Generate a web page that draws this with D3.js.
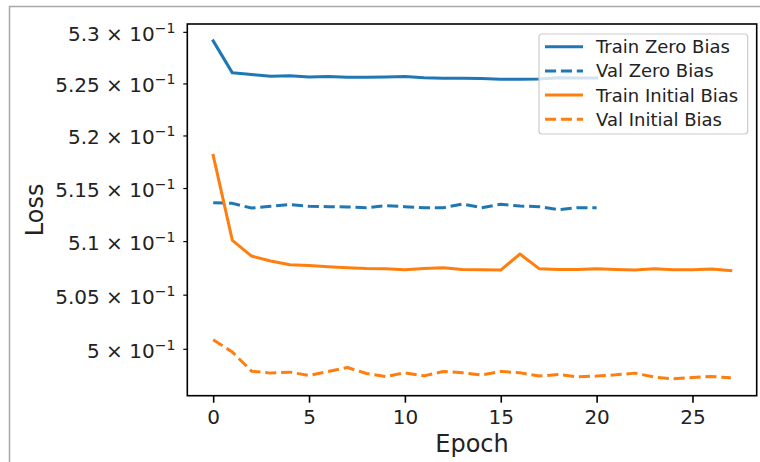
<!DOCTYPE html>
<html>
<head>
    <meta charset="utf-8" />
    <style>
        body { margin: 0; background: #fff; }
        svg { display: block; font-family: "DejaVu Sans", sans-serif; }
    </style>
    <script src="https://d3js.org/d3.v7.min.js"></script>
</head>
<body>
<svg id="chart"></svg>
<script>

// epochs 0..27 (zero-bias runs stop at 20)
let epochsLong = d3.range(0, 28);
let epochsShort = d3.range(0, 21);

let trainZero = [0.52912, 0.52602, 0.52586, 0.52569, 0.52573, 0.52563, 0.52566, 0.52560, 0.52560, 0.52563,
    0.52566, 0.52554, 0.52550, 0.52550, 0.52547, 0.52540, 0.52540, 0.52542, 0.52554, 0.52552, 0.52552];
let valZero = [0.51361, 0.51355, 0.51311, 0.51327, 0.51343, 0.51327, 0.51324, 0.51321, 0.51314, 0.51333,
    0.51324, 0.51314, 0.51314, 0.51349, 0.51314, 0.51347, 0.51329, 0.51324, 0.51295, 0.51314, 0.51314];
let trainInit = [0.51810, 0.51006, 0.50860, 0.50813, 0.50779, 0.50772, 0.50760, 0.50751, 0.50744, 0.50742,
    0.50732, 0.50744, 0.50751, 0.50735, 0.50732, 0.50729, 0.50879, 0.50742, 0.50735, 0.50735,
    0.50742, 0.50735, 0.50729, 0.50742, 0.50732, 0.50732, 0.50739, 0.50723];
let valInit = [0.50083, 0.49970, 0.49795, 0.49777, 0.49786, 0.49755, 0.49792, 0.49828, 0.49773, 0.49746,
    0.49780, 0.49752, 0.49792, 0.49780, 0.49761, 0.49792, 0.49780, 0.49750, 0.49764, 0.49743,
    0.49750, 0.49761, 0.49777, 0.49741, 0.49725, 0.49737, 0.49746, 0.49734];

let seriesNames = ["Train Zero Bias", "Val Zero Bias", "Train Initial Bias", "Val Initial Bias"];

let xTicks = [0, 5, 10, 15, 20, 25];
let yTicks = [0.5, 0.505, 0.51, 0.515, 0.52, 0.525, 0.53];
let yTickMantissa = ["5", "5.05", "5.1", "5.15", "5.2", "5.25", "5.3"];

let blue = "#1f77b4", orange = "#ff7f0e";

let series = [
    { name: seriesNames[0], x: epochsShort, y: trainZero, color: blue, dash: null },
    { name: seriesNames[1], x: epochsShort, y: valZero, color: blue, dash: "11.1,4.8" },
    { name: seriesNames[2], x: epochsLong, y: trainInit, color: orange, dash: null },
    { name: seriesNames[3], x: epochsLong, y: valInit, color: orange, dash: "11.1,4.8" }
];

let W = 760, H = 462;
let axL = 187.3, axT = 24, axR = 756.7, axB = 395.7;

let svg = d3.select("#chart").attr("width", W).attr("height", H);

// figure frame
svg.append("rect")
    .attr("x", 9.5).attr("y", 6.5)
    .attr("width", 800).attr("height", 500)
    .style("fill", "none").style("stroke", "#a8a8a8").style("stroke-width", 1.5);

// matplotlib style 5% margins
let allX = epochsLong;
let xPad = (d3.max(allX) - d3.min(allX)) * 0.05;
let x = d3.scaleLinear()
    .domain([d3.min(allX) - xPad, d3.max(allX) + xPad])
    .range([axL, axR]);

let allY = trainZero.concat(valZero, trainInit, valInit);
let lo = Math.log(d3.min(allY)), hi = Math.log(d3.max(allY));
let lpad = (hi - lo) * 0.05;
let y = d3.scaleLog()
    .domain([Math.exp(lo - lpad), Math.exp(hi + lpad)])
    .range([axB, axT]);

svg.append("clipPath").attr("id", "clip")
    .append("rect")
    .attr("x", axL).attr("y", axT)
    .attr("width", axR - axL).attr("height", axB - axT);

let line = d3.line()
    .x(d => x(d[0]))
    .y(d => y(d[1]));

svg.append("g").attr("clip-path", "url(#clip)")
    .selectAll("path")
    .data(series)
    .enter()
    .append("path")
    .attr("d", s => line(s.x.map((e, i) => [e, s.y[i]])))
    .style("fill", "none")
    .style("stroke", s => s.color)
    .style("stroke-width", 3)
    .style("stroke-linejoin", "round")
    .style("stroke-linecap", s => s.dash ? "butt" : "square")
    .style("stroke-dasharray", s => s.dash);

// x axis
let xAxis = d3.axisBottom(x).tickValues(xTicks).tickSize(7).tickPadding(7);
let gx = svg.append("g").attr("transform", "translate(0," + axB + ")").call(xAxis);
gx.select(".domain").remove();
gx.selectAll(".tick line").style("stroke", "#000").style("stroke-width", 1.6);
gx.selectAll(".tick text")
    .attr("y", 28.5).attr("dy", null)
    .style("font-size", "20px").style("fill", "#222")
    .style("font-family", "DejaVu Sans");

// y axis (log, minor-style ticks)
let yAxis = d3.axisLeft(y).tickValues(yTicks).tickSize(4).tickFormat("");
let gy = svg.append("g").attr("transform", "translate(" + axL + ",0)").call(yAxis);
gy.select(".domain").remove();
gy.selectAll(".tick line").style("stroke", "#000").style("stroke-width", 1.2);
gy.selectAll(".tick text").remove();
gy.selectAll(".tick").each(function(d, i) {
    let t = d3.select(this).append("text")
        .attr("x", -12).attr("y", 8.5)
        .attr("text-anchor", "end")
        .style("font-size", "20px").style("fill", "#222")
        .style("font-family", "DejaVu Sans");
    t.append("tspan").text(yTickMantissa[i] + " \u00d7 10");
    t.append("tspan").attr("dy", -8).style("font-size", "14px").text("\u22121");
});

// spines
svg.append("rect")
    .attr("x", axL).attr("y", axT)
    .attr("width", axR - axL).attr("height", axB - axT)
    .style("fill", "none").style("stroke", "#000").style("stroke-width", 1.6);

// axis labels
svg.append("text")
    .attr("x", (axL + axR) / 2).attr("y", 452)
    .attr("text-anchor", "middle")
    .style("font-size", "24px").style("fill", "#222")
    .text("Epoch");

svg.append("text")
    .attr("transform", "translate(43," + ((axT + axB) / 2) + ") rotate(-90)")
    .attr("text-anchor", "middle")
    .style("font-size", "24px").style("fill", "#222")
    .text("Loss");

// legend
let lg = svg.append("g");
lg.append("rect")
    .attr("x", 539).attr("y", 34)
    .attr("width", 208.7).attr("height", 100)
    .attr("rx", 3)
    .style("fill", "#fff").style("fill-opacity", 0.8)
    .style("stroke", "#ccc").style("stroke-width", 1.2);

let rows = lg.selectAll("g.row")
    .data(series)
    .enter()
    .append("g")
    .attr("transform", (d, i) => "translate(0," + (46.7 + i * 24.2) + ")");

rows.append("line")
    .attr("x1", 545).attr("x2", 583)
    .style("stroke", d => d.color)
    .style("stroke-width", 3)
    .style("stroke-dasharray", d => d.dash);

rows.append("text")
    .attr("x", 596).attr("y", 6.5)
    .style("font-size", "18px").style("fill", "#222")
    .text(d => d.name);

</script>
</body>
</html>
